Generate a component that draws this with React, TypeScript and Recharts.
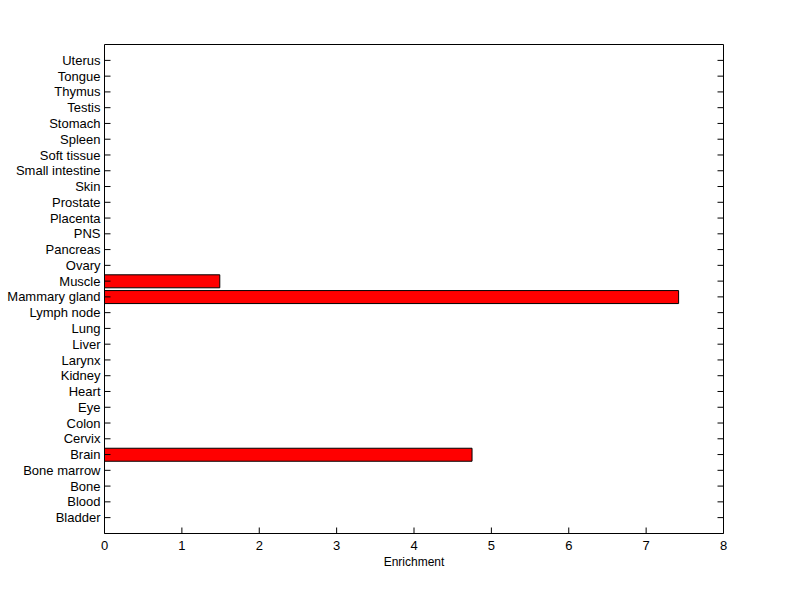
import { BarChart, Bar, XAxis, YAxis } from "recharts"

// bottom to top, as in the figure
const TISSUES = [
  "Bladder", "Blood", "Bone", "Bone marrow", "Brain", "Cervix", "Colon", "Eye",
  "Heart", "Kidney", "Larynx", "Liver", "Lung", "Lymph node", "Mammary gland",
  "Muscle", "Ovary", "Pancreas", "PNS", "Placenta", "Prostate", "Skin",
  "Small intestine", "Soft tissue", "Spleen", "Stomach", "Testis", "Thymus",
  "Tongue", "Uterus",
]
const ENRICHMENT = [
  0, 0, 0, 0, 4.75, 0, 0, 0,
  0, 0, 0, 0, 0, 0, 7.42,
  1.49, 0, 0, 0, 0, 0, 0,
  0, 0, 0, 0, 0, 0,
  0, 0,
]
const X_TICKS = [0, 1, 2, 3, 4, 5, 6, 7, 8]

const data = TISSUES.map((name, i) => ({ name, value: ENRICHMENT[i] }))

const FONT = "'Liberation Sans', Arial, sans-serif"
const TICK = 6

const LeftTick = (props: any) => {
  const { x, y, payload } = props
  return (
    <g>
      <line x1={x} x2={x + TICK} y1={y} y2={y} stroke="#000" />
      <text x={x - 4} y={y} dy="0.35em" textAnchor="end" fontSize={13} fontFamily={FONT} fill="#000">
        {payload.value}
      </text>
    </g>
  )
}

const RightTick = (props: any) => {
  const { x, y } = props
  return <line x1={x - TICK} x2={x} y1={y} y2={y} stroke="#000" />
}

const BottomTick = (props: any) => {
  const { x, y, payload } = props
  return (
    <g>
      <line x1={x} x2={x} y1={y} y2={y - TICK} stroke="#000" />
      <text x={x} y={y + 16} textAnchor="middle" fontSize={13} fontFamily={FONT} fill="#000">
        {payload.value}
      </text>
    </g>
  )
}

const TopTick = (props: any) => {
  const { x, y } = props
  return <line x1={x} x2={x} y1={y} y2={y + TICK} stroke="#000" />
}

export default function App() {
  return (
    <div style={{ position: "absolute", left: 0, top: 0, background: "#fff" }}>
      <BarChart
        width={800}
        height={599}
        data={data}
        layout="vertical"
        margin={{ top: 0, right: 0, bottom: 0, left: 0 }}
        barCategoryGap="10%"
      >
        <XAxis
          type="number"
          domain={[0, 8]}
          ticks={X_TICKS}
          height={65.5}
          tickSize={0}
          tickMargin={0}
          tick={BottomTick}
          axisLine={{ stroke: "#000" }}
          tickLine={false}
          label={{ value: "Enrichment", position: "insideTop", offset: 24, fontSize: 12, fontFamily: FONT, fill: "#000" }}
        />
        <XAxis
          xAxisId="top"
          orientation="top"
          type="number"
          domain={[0, 8]}
          ticks={X_TICKS}
          height={44.5}
          tickSize={0}
          tickMargin={0}
          tick={TopTick}
          axisLine={{ stroke: "#000" }}
          tickLine={false}
        />
        <YAxis
          type="category"
          dataKey="name"
          reversed
          width={104.5}
          padding={{ top: 8, bottom: 8 }}
          interval={0}
          tickSize={0}
          tickMargin={0}
          tick={LeftTick}
          axisLine={{ stroke: "#000" }}
          tickLine={false}
        />
        <YAxis
          yAxisId="right"
          orientation="right"
          type="category"
          dataKey="name"
          reversed
          width={76.5}
          padding={{ top: 8, bottom: 8 }}
          interval={0}
          tickSize={0}
          tickMargin={0}
          tick={RightTick}
          axisLine={{ stroke: "#000" }}
          tickLine={false}
        />
        <Bar dataKey="value" fill="#ff0000" stroke="#000" strokeWidth={1} isAnimationActive={false} />
      </BarChart>
    </div>
  )
}
